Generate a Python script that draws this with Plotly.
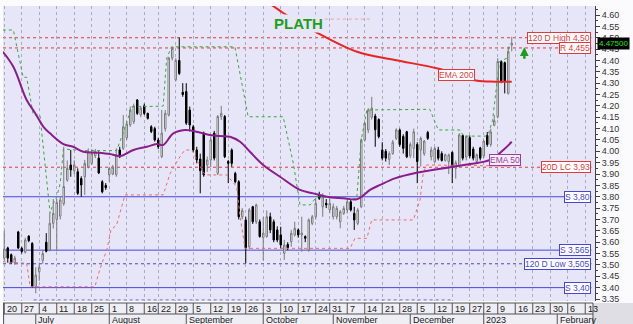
import plotly.graph_objects as go
import pandas as pd

# ---------------- calendar (trading days, Athens) ----------------
holidays = ["2022-08-15", "2022-10-28", "2022-12-26", "2023-01-06"]
trading_days = [d.strftime("%Y-%m-%d") for d in pd.bdate_range("2022-06-20", "2023-02-17")
                if d.strftime("%Y-%m-%d") not in holidays]
day_pos = {d: i for i, d in enumerate(trading_days)}

# ---------------- candles ----------------
opens = [3.53, 3.575, 3.545, 3.51, 3.645, 3.573, 3.556, 3.627, 3.595, 3.405,
         3.47, 3.52, 3.60, 3.566, 3.683, 3.70, 3.715, 3.77, 3.873, 3.94,
         3.915, 3.91, 3.88, 3.888, 3.932, 3.947, 3.98, 3.97, 3.866, 3.85,
         3.897, 3.90, 3.897, 4.006, 4.013, 4.06, 4.116, 4.13, 4.226, 4.16,
         4.20, 4.167, 4.108, 4.10, 4.05, 3.977, 4.10, 4.16, 4.41, 4.315,
         4.40, 4.26, 4.263, 4.182, 4.108, 4.006, 3.966, 4.079, 3.94, 3.962,
         4.08, 3.903, 4.153, 4.153, 3.955, 4.006, 3.903, 3.866, 3.712, 3.698,
         3.58, 3.756, 3.69, 3.69, 3.62, 3.625, 3.712, 3.69, 3.654, 3.632,
         3.551, 3.59, 3.602, 3.632, 3.654, 3.632, 3.625, 3.566, 3.683, 3.712,
         3.808, 3.756, 3.771, 3.742, 3.712, 3.712, 3.69, 3.727, 3.742, 3.778,
         3.727, 3.683, 3.756, 4.05, 4.094, 4.15, 4.155, 4.14, 4.006, 4.0,
         3.965, 3.99, 4.057, 4.094, 4.065, 4.086, 3.98, 4.013, 4.03, 4.006,
         3.99, 4.083, 3.976, 3.954, 4.006, 3.99, 3.96, 3.954, 3.995, 3.925,
         3.935, 4.07, 3.975, 4.06, 4.01, 3.955, 4.015, 3.98, 4.07, 4.03,
         4.115, 4.152, 4.395, 4.39, 4.255, 4.468]
highs = [3.65, 3.58, 3.55, 3.54, 3.65, 3.58, 3.62, 3.63, 3.60, 3.49,
         3.51, 3.565, 3.64, 3.727, 3.79, 3.79, 3.80, 4.02, 3.96, 4.006,
         3.96, 3.925, 3.89, 3.962, 4.013, 4.01, 4.01, 4.0, 3.873, 3.86,
         3.932, 3.94, 4.013, 4.02, 4.16, 4.13, 4.197, 4.21, 4.23, 4.20,
         4.21, 4.17, 4.115, 4.108, 4.06, 4.182, 4.182, 4.416, 4.46, 4.41,
         4.50, 4.30, 4.30, 4.197, 4.116, 4.02, 3.99, 4.087, 3.977, 4.065,
         4.09, 4.16, 4.20, 4.16, 3.962, 4.013, 3.91, 3.873, 3.75, 3.712,
         3.75, 3.76, 3.77, 3.70, 3.71, 3.74, 3.73, 3.70, 3.67, 3.668,
         3.61, 3.60, 3.654, 3.69, 3.66, 3.712, 3.63, 3.705, 3.72, 3.793,
         3.822, 3.815, 3.79, 3.793, 3.77, 3.76, 3.742, 3.76, 3.793, 3.79,
         3.756, 3.75, 4.057, 4.13, 4.19, 4.24, 4.165, 4.145, 4.04, 4.01,
         4.0, 4.05, 4.101, 4.10, 4.075, 4.09, 4.04, 4.10, 4.04, 4.065,
         4.05, 4.09, 4.02, 4.02, 4.02, 4.0, 3.99, 3.99, 4.00, 3.96,
         4.08, 4.075, 4.07, 4.07, 4.02, 3.99, 4.02, 4.05, 4.085, 4.10,
         4.16, 4.41, 4.40, 4.395, 4.46, 4.504]
lows = [3.52, 3.51, 3.505, 3.50, 3.57, 3.55, 3.55, 3.60, 3.40, 3.375,
        3.43, 3.505, 3.555, 3.56, 3.66, 3.56, 3.70, 3.76, 3.866, 3.888,
        3.90, 3.808, 3.80, 3.808, 3.925, 3.94, 3.97, 3.90, 3.815, 3.83,
        3.866, 3.895, 3.888, 3.97, 4.006, 4.05, 4.108, 4.12, 4.16, 4.15,
        4.16, 4.14, 4.08, 4.043, 4.01, 3.97, 4.087, 4.153, 4.40, 4.307,
        4.336, 4.24, 4.116, 4.087, 3.998, 3.947, 3.815, 3.888, 3.91, 3.93,
        3.96, 3.896, 4.138, 3.97, 3.86, 3.932, 3.859, 3.70, 3.70, 3.507,
        3.57, 3.68, 3.68, 3.62, 3.52, 3.62, 3.64, 3.60, 3.60, 3.573,
        3.522, 3.565, 3.58, 3.625, 3.62, 3.558, 3.60, 3.558, 3.675, 3.70,
        3.786, 3.712, 3.75, 3.727, 3.70, 3.70, 3.661, 3.72, 3.727, 3.735,
        3.654, 3.675, 3.75, 4.043, 4.08, 4.14, 4.02, 4.057, 3.96, 3.955,
        3.94, 3.985, 4.05, 4.02, 3.99, 3.97, 3.97, 3.97, 3.86, 3.933,
        3.98, 4.05, 3.96, 3.95, 3.96, 3.955, 3.955, 3.90, 3.86, 3.88,
        3.93, 3.96, 3.96, 3.97, 3.96, 3.95, 3.96, 3.97, 4.02, 4.02,
        4.11, 4.145, 4.30, 4.255, 4.25, 4.44]
closes = [3.57, 3.53, 3.51, 3.53, 3.575, 3.559, 3.61, 3.607, 3.405, 3.455,
          3.49, 3.55, 3.56, 3.683, 3.727, 3.775, 3.786, 3.845, 3.925, 3.918,
          3.94, 3.815, 3.852, 3.947, 3.998, 3.99, 4.0, 3.905, 3.822, 3.84,
          3.925, 3.93, 3.984, 3.976, 4.108, 4.12, 4.182, 4.20, 4.167, 4.19,
          4.167, 4.145, 4.087, 4.05, 4.02, 4.08, 4.167, 4.41, 4.453, 4.40,
          4.343, 4.25, 4.124, 4.116, 4.006, 3.962, 3.915, 3.896, 3.962, 4.05,
          3.97, 4.153, 4.167, 3.976, 3.947, 3.947, 3.866, 3.712, 3.74, 3.573,
          3.742, 3.69, 3.764, 3.625, 3.64, 3.712, 3.654, 3.61, 3.61, 3.588,
          3.588, 3.575, 3.639, 3.661, 3.632, 3.64, 3.617, 3.698, 3.712, 3.771,
          3.793, 3.80, 3.764, 3.771, 3.756, 3.749, 3.734, 3.749, 3.778, 3.742,
          3.698, 3.742, 4.05, 4.124, 4.182, 4.19, 4.095, 4.065, 3.97, 3.97,
          3.99, 4.04, 4.094, 4.03, 4.013, 3.976, 4.03, 4.086, 3.955, 4.057,
          4.045, 4.057, 4.006, 4.013, 3.97, 3.96, 3.985, 3.984, 3.935, 3.95,
          4.072, 3.97, 4.065, 3.98, 3.97, 3.985, 3.97, 4.045, 4.03, 4.085,
          4.135, 4.395, 4.31, 4.31, 4.44, 4.475]
candle_x = list(range(len(closes)))

# ---------------- indicator lines (vertices) ----------------
ema200_x = [74.0, 76.8, 79.6, 88.8, 100.8, 111.6, 124.5, 133.9, 138.8, 145.0]
ema200_y = [4.665, 4.640, 4.610, 4.527, 4.438, 4.402, 4.362, 4.314, 4.307, 4.306]

ema50_x = [-0.4, 2.6, 6.4, 8.8, 11.2, 13.1, 16.9, 19.7, 22.6, 26.4, 30.2, 33.1, 36.9,
           40.7, 43.6, 45.4, 48.3, 51.6, 53.6, 58.8, 61.6, 64.5, 67.4, 70.2, 74.0,
           78.8, 84.5, 88.3, 92.1, 96.9, 100.7, 102.1, 104.5, 107.4, 111.6,
           117.8, 128.3, 133.1, 138.8, 142.6, 145.0]
ema50_y = [4.438, 4.372, 4.226, 4.169, 4.108, 4.079, 4.032, 4.020, 3.998, 3.994, 3.988, 3.979, 4.006,
           4.020, 4.032, 4.028, 4.079, 4.094, 4.091, 4.072, 4.067, 4.064, 4.042, 3.998, 3.940,
           3.888, 3.830, 3.815, 3.800, 3.793, 3.789, 3.800, 3.830, 3.852, 3.881,
           3.906, 3.932, 3.944, 3.962, 4.006, 4.042]

high_close_x = [-0.4, 2.6, 5.4, 6.4, 8.3, 10.2, 13.1, 14.0, 15.0, 16.0, 16.9, 22.6, 32.1, 34.6, 36.4,
                45.4, 46.4, 47.8, 65.9, 69.7, 79.7, 82.6, 84.5, 87.4, 89.3, 100.7, 102.0,
                103.0, 103.6, 121.6, 124.0, 130.2, 131.2, 137.8, 138.5, 139.5, 140.7,
                141.5, 143.6, 144.5]
high_close_y = [4.534, 4.534, 4.326, 4.326, 4.160, 4.160, 3.727, 3.770, 3.800, 3.860, 4.010, 4.003, 4.003, 4.108, 4.196,
                4.199, 4.409, 4.460, 4.460, 4.152, 4.152, 3.947, 3.764, 3.764, 3.800, 3.790, 4.050,
                4.124, 4.182, 4.185, 4.094, 4.094, 4.067, 4.067, 4.085, 4.135, 4.300,
                4.395, 4.410, 4.475]

low_close_x = [-0.4, 6.4, 7.4, 25.9, 27.3, 29.3, 30.5, 32.1, 34.5, 45.4, 47.4, 50.2, 51.6, 53.6,
               56.0, 57.4, 63.6, 66.4, 67.4, 68.8, 98.8, 100.2, 103.6, 105.0, 116.9,
               118.8, 119.7, 120.7, 145.0]
low_close_y = [3.514, 3.507, 3.404, 3.404, 3.480, 3.566, 3.654, 3.676, 3.808, 3.808, 3.903, 3.976, 4.006, 4.006,
               3.933, 3.896, 3.896, 3.844, 3.712, 3.573, 3.573, 3.617, 3.617, 3.698, 3.698,
               3.786, 3.903, 3.940, 3.935]

old_low_x = [8.4, 128.3]
old_low_y = [3.346, 3.346]
pink_x = [91.6, 104.5]
pink_y = [4.582, 4.582]

# ---------------- horizontal levels ----------------
level_values = [4.50, 4.455, 3.93, 3.80, 3.565, 3.505, 3.40]
level_texts = ["120 D High 4,50", "R 4,455", "20D LC 3,93", "S 3,80", "S 3,565", "120 D Low 3,505", "S 3,40"]
level_colors = ["#E23A3A", "#E23A3A", "#E23A3A", "#4646DC", "#4646DC", "#4646DC", "#4646DC"]
level_dash = ["dot", "dot", "dot", "solid", "solid", "dot", "solid"]

last_price = 4.475

# ---------------- axis labels ----------------
week_dates = ["2022-06-20", "2022-06-27", "2022-07-04", "2022-07-11", "2022-07-18", "2022-07-25",
              "2022-08-01", "2022-08-08", "2022-08-16", "2022-08-22", "2022-08-29", "2022-09-05",
              "2022-09-12", "2022-09-19", "2022-09-26", "2022-10-03", "2022-10-10", "2022-10-17",
              "2022-10-24", "2022-10-31", "2022-11-07", "2022-11-14", "2022-11-21", "2022-11-28",
              "2022-12-05", "2022-12-12", "2022-12-19", "2022-12-27", "2023-01-02", "2023-01-09",
              "2023-01-16", "2023-01-23", "2023-01-30", "2023-02-06", "2023-02-13"]
week_labels = ["20", "27", "4", "11", "18", "25", "1", "8", "16", "22", "29", "5", "12", "19", "26",
               "3", "10", "17", "24", "31", "7", "14", "21", "28", "5", "12", "19", "27", "2", "9",
               "16", "23", "30", "6", "13"]
month_dates = ["2022-07-01", "2022-08-01", "2022-09-01", "2022-10-03", "2022-11-01",
               "2022-12-01", "2023-01-02", "2023-02-01"]
month_labels = ["July", "August", "September", "October", "November", "December", "2023", "February"]
y_ticks = [round(3.35 + 0.05 * k, 2) for k in range(26)]

# ---------------- figure ----------------
W, H = 633, 324
ML, MR, MT, MB = 3, 38, 6, 23
PH = H - MT - MB
X_RANGE = [-0.357, 168.79]
Y_RANGE = [3.3412, 4.6396]
FONT = "Liberation Sans, Arial, sans-serif"
PLOT_BG = "#E6E6F8"


def py(px):  # pixel row below the plot -> paper y
    return (H - MB - px) / PH


fig = go.Figure()

fig.add_trace(go.Candlestick(
    x=candle_x, open=opens, high=highs, low=lows, close=closes,
    increasing=dict(line=dict(color="#7A7A7A", width=1), fillcolor="#FFFFFF"),
    decreasing=dict(line=dict(color="#000000", width=1), fillcolor="#000000"),
    whiskerwidth=0, showlegend=False, hoverinfo="skip"))

fig.add_trace(go.Scatter(x=old_low_x, y=old_low_y, mode="lines",
                         line=dict(color="#6A6AE6", width=1, dash="dot"), hoverinfo="skip"))
fig.add_trace(go.Scatter(x=pink_x, y=pink_y, mode="lines",
                         line=dict(color="#F2A0A0", width=1, dash="dot"), hoverinfo="skip"))
fig.add_trace(go.Scatter(x=low_close_x, y=low_close_y, mode="lines",
                         line=dict(color="#F06A6A", width=1, dash="dot"), hoverinfo="skip"))
fig.add_trace(go.Scatter(x=high_close_x, y=high_close_y, mode="lines",
                         line=dict(color="#3AA83A", width=1, dash="dot"), hoverinfo="skip"))
fig.add_trace(go.Scatter(x=ema50_x, y=ema50_y, mode="lines", line_shape="spline",
                         line=dict(color="#8A1C8E", width=2), hoverinfo="skip"))
fig.add_trace(go.Scatter(x=ema200_x, y=ema200_y, mode="lines", line_shape="spline",
                         line=dict(color="#E82424", width=2), hoverinfo="skip"))

shapes = []
annotations = []

# level lines + labels
for v, t, c, d in zip(level_values, level_texts, level_colors, level_dash):
    shapes.append(dict(type="line", xref="paper", yref="y", x0=0, x1=0.994, y0=v, y1=v,
                       line=dict(color=c, width=1, dash=d), layer="below"))
    annotations.append(dict(xref="paper", yref="y", x=0.9935, y=v, xanchor="right", yanchor="middle",
                            text=t, showarrow=False, font=dict(family=FONT, size=8.5, color=c),
                            bgcolor="#FFFFFF", bordercolor=c, borderwidth=1, borderpad=0))

# x-axis band
y_top, y_mid, y_bot = py(303), py(314), py(324.5)
shapes.append(dict(type="rect", xref="paper", yref="paper", x0=0, x1=0.9966, y0=y_bot, y1=y_top,
                   fillcolor="#EEEEF4", line=dict(width=0), layer="below"))
shapes.append(dict(type="rect", xref="paper", yref="paper", x0=0.9966, x1=1.07, y0=y_bot, y1=y_top,
                   fillcolor="#DEDEE4", line=dict(width=0), layer="below"))
for yy in (y_top, y_mid):
    shapes.append(dict(type="line", xref="paper", yref="paper", x0=0, x1=0.9966, y0=yy, y1=yy,
                       line=dict(color="#505058", width=1)))
shapes.append(dict(type="line", xref="paper", yref="paper", x0=0.001, x1=0.001, y0=y_bot, y1=y_top,
                   line=dict(color="#505058", width=1)))
shapes.append(dict(type="line", xref="paper", yref="paper", x0=0.9966, x1=0.9966, y0=y_bot, y1=y_top,
                   line=dict(color="#505058", width=1)))

week_pos = [day_pos[d] for d in week_dates]
month_pos = [day_pos[d] for d in month_dates]
for p, lab in zip(week_pos, week_labels):
    shapes.append(dict(type="line", xref="x", yref="paper", x0=p, x1=p, y0=y_mid, y1=y_top,
                       line=dict(color="#505058", width=1)))
    annotations.append(dict(xref="x", yref="paper", x=p + 0.15, y=py(309), xanchor="left", yanchor="middle",
                            text=lab, showarrow=False, font=dict(family=FONT, size=9, color="#202020")))
for p, lab in zip(month_pos, month_labels):
    shapes.append(dict(type="line", xref="x", yref="paper", x0=p, x1=p, y0=y_bot, y1=y_mid,
                       line=dict(color="#505058", width=1)))
    annotations.append(dict(xref="x", yref="paper", x=p + 0.15, y=py(319.5), xanchor="left", yanchor="middle",
                            text=lab, showarrow=False, font=dict(family=FONT, size=9, color="#202020")))

# title / labels
annotations.append(dict(xref="x", yref="y", x=84.2, y=4.564, text="<b>PLATH</b>", showarrow=False,
                        font=dict(family=FONT, size=15, color="#1E9E1E"), bgcolor=PLOT_BG, borderpad=0))
annotations.append(dict(xref="x", yref="y", x=129.1, y=4.336, text="EMA 200", showarrow=False,
                        font=dict(family=FONT, size=8.5, color="#E23A3A"), bgcolor="#FFFFFF",
                        bordercolor="#E23A3A", borderwidth=1, borderpad=0))
annotations.append(dict(xref="x", yref="y", x=143.1, y=3.962, text="EMA 50", showarrow=False,
                        font=dict(family=FONT, size=8.5, color="#9A3C9E"), bgcolor="#F4ECF6",
                        bordercolor="#9A3C9E", borderwidth=1, borderpad=0))
annotations.append(dict(xref="paper", yref="y", x=1.0034, y=last_price, xanchor="left", yanchor="middle",
                        text=f"{last_price:.5f}", showarrow=False,
                        font=dict(family=FONT, size=8, color="#19E619"), bgcolor="#000000", borderpad=1))
annotations.append(dict(xref="x", yref="y", x=148.6, y=4.458, ax=0, ay=13, text="", showarrow=True,
                        arrowhead=2, arrowsize=0.7, arrowwidth=2.5, arrowcolor="#1B9E1B"))

fig.update_layout(
    width=W, height=H, margin=dict(l=ML, r=MR, t=MT, b=MB),
    paper_bgcolor="#FBFBFD", plot_bgcolor=PLOT_BG, showlegend=False,
    boxgap=0.4,
    shapes=shapes, annotations=annotations,
    xaxis=dict(range=X_RANGE, tickvals=week_pos, showticklabels=False, ticks="",
               showgrid=True, gridcolor="#ABABBE", griddash="dot", gridwidth=1,
               zeroline=False, showline=False, rangeslider=dict(visible=False), fixedrange=True),
    yaxis=dict(range=Y_RANGE, side="right", tickvals=y_ticks, ticktext=[f"{v:.2f}" for v in y_ticks],
               showgrid=False, zeroline=False, showline=True, linecolor="#404040", linewidth=1,
               ticks="outside", ticklen=4, tickcolor="#404040",
               minor=dict(ticks="outside", ticklen=2, dtick=0.025, tickcolor="#404040"),
               tickfont=dict(family=FONT, size=9, color="#333333"), fixedrange=True),
)

fig.write_html("out.html")
